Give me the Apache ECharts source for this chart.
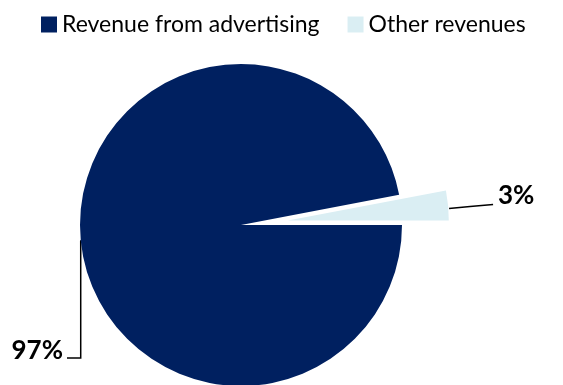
<!DOCTYPE html>
<html>
<head>
<meta charset="utf-8">
<script src="https://cdn.jsdelivr.net/npm/echarts@6/dist/echarts.min.js"></script>
<style>
  html, body { margin: 0; padding: 0; background: #fff; }
  #chart { width: 563px; height: 385px; }
</style>
</head>
<body>
<div id="chart"></div>
<script>
// Revenue split
const categories = ['Revenue from advertising', 'Other revenues'];
const shares = [97, 3];
const colors = ['#002060', '#DAEEF3'];

const chart = echarts.init(document.getElementById('chart'), null, { renderer: 'canvas' });

const CX = 241, CY = 225, R = 161;
// the small slice is pulled out along its bisector
const pull = 47;
const midAngle = (shares[1] / (shares[0] + shares[1])) * Math.PI; // half of the slice angle
const pulledCenter = [CX + pull * Math.cos(midAngle), CY - pull * Math.sin(midAngle)];

const labelStyle = {
  show: true,
  position: 'outside',
  formatter: '{c}%',
  overflow: 'none',
  fontFamily: 'Lato',
  fontWeight: 'bold',
  fontSize: 26,
  color: '#000'
};

function sliceData(visibleIndex) {
  return categories.map((name, i) => ({
    name: name,
    value: shares[i],
    itemStyle: { color: i === visibleIndex ? colors[i] : 'rgba(0,0,0,0)' },
    label: { show: i === visibleIndex },
    labelLine: { show: i === visibleIndex }
  }));
}

const basePie = {
  type: 'pie',
  radius: R,
  startAngle: 0,
  clockwise: true,
  silent: true,
  emphasis: { disabled: true },
  label: labelStyle,
  labelLine: { show: true, lineStyle: { color: '#000', width: 1.5 } }
};

chart.setOption({
  animation: false,
  legend: {
    data: categories.map((name, i) => ({ name: name, itemStyle: { color: colors[i] } })),
    left: 41,
    top: 13,
    padding: 0,
    icon: 'rect',
    itemWidth: 16,
    itemHeight: 16,
    itemGap: 28,
    selectedMode: false,
    textStyle: { fontFamily: 'Lato', fontSize: 23, color: '#000' }
  },
  series: [
    Object.assign({}, basePie, {
      name: 'main',
      center: [CX, CY],
      data: sliceData(0),
      labelLayout: function (params) {
        if (params.dataIndex !== 0 || !params.labelLinePoints) return {};
        const p0 = params.labelLinePoints[0];
        return {
          x: 63, y: 351, align: 'right', verticalAlign: 'middle',
          labelLinePoints: [p0, [p0[0], 358], [67, 358]]
        };
      }
    }),
    Object.assign({}, basePie, {
      name: 'pulled',
      center: pulledCenter,
      data: sliceData(1),
      labelLayout: function (params) {
        if (params.dataIndex !== 1 || !params.labelLinePoints) return {};
        const p0 = params.labelLinePoints[0];
        return {
          x: 498, y: 196, align: 'left', verticalAlign: 'middle',
          labelLinePoints: [[p0[0] + 1, p0[1] + 3], [p0[0] + 22, p0[1] + 1], [p0[0] + 45, p0[1] - 1]]
        };
      }
    })
  ]
});
</script>
</body>
</html>
